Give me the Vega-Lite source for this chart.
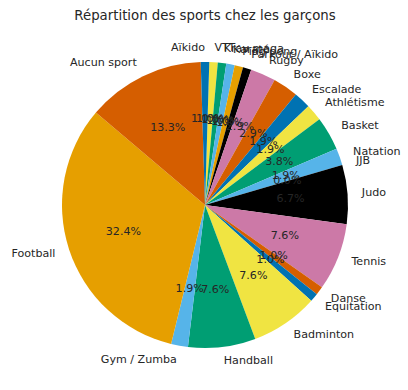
{
  "$schema": "https://vega.github.io/schema/vega-lite/v6.json",
  "width": 406,
  "height": 350,
  "autosize": {"type": "none"},
  "padding": {"left": 2, "top": 30, "right": 0, "bottom": 10},
  "background": "white",
  "title": {
    "text": "Répartition des sports chez les garçons",
    "font": "DejaVu Sans",
    "fontSize": 13.3,
    "fontWeight": "normal",
    "color": "#262626",
    "offset": 8
  },
  "data": {
    "values": [
      {"idx": 1, "sport": "VTT", "n": 1},
      {"idx": 2, "sport": "Krav maga", "n": 1},
      {"idx": 3, "sport": "Karaté", "n": 1},
      {"idx": 4, "sport": "Ping pong", "n": 1},
      {"idx": 5, "sport": "Parkour / Aïkido", "n": 1},
      {"idx": 6, "sport": "Rugby", "n": 3},
      {"idx": 7, "sport": "Boxe", "n": 3},
      {"idx": 8, "sport": "Escalade", "n": 2},
      {"idx": 9, "sport": "Athlétisme", "n": 2},
      {"idx": 10, "sport": "Basket", "n": 4},
      {"idx": 11, "sport": "Natation", "n": 2},
      {"idx": 12, "sport": "JJB", "n": 0},
      {"idx": 13, "sport": "Judo", "n": 7},
      {"idx": 14, "sport": "Tennis", "n": 8},
      {"idx": 15, "sport": "Danse", "n": 1},
      {"idx": 16, "sport": "Equitation", "n": 1},
      {"idx": 17, "sport": "Badminton", "n": 8},
      {"idx": 18, "sport": "Handball", "n": 8},
      {"idx": 19, "sport": "Gym / Zumba", "n": 2},
      {"idx": 20, "sport": "Football", "n": 34},
      {"idx": 21, "sport": "Aucun sport", "n": 14},
      {"idx": 22, "sport": "Aïkido", "n": 1}
    ]
  },
  "transform": [
    {"joinaggregate": [{"op": "sum", "field": "n", "as": "total"}]}
  ],
  "encoding": {
    "theta": {
      "field": "n",
      "type": "quantitative",
      "stack": true,
      "scale": {"range": [0.02992, 6.31311]}
    },
    "order": {"field": "idx", "type": "quantitative"}
  },
  "layer": [
    {
      "mark": {"type": "arc", "radius": 143},
      "encoding": {
        "color": {
          "field": "sport",
          "type": "nominal",
          "legend": null,
          "scale": {
            "domain": ["VTT", "Krav maga", "Karaté", "Ping pong", "Parkour / Aïkido", "Rugby", "Boxe", "Escalade", "Athlétisme", "Basket", "Natation", "JJB", "Judo", "Tennis", "Danse", "Equitation", "Badminton", "Handball", "Gym / Zumba", "Football", "Aucun sport", "Aïkido"],
            "range": ["#F0E442", "#009E73", "#56B4E9", "#E69F00", "#000000", "#CC79A7", "#D55E00", "#0072B2", "#F0E442", "#009E73", "#56B4E9", "#E69F00", "#000000", "#CC79A7", "#D55E00", "#0072B2", "#F0E442", "#009E73", "#56B4E9", "#E69F00", "#D55E00", "#0072B2"]
          }
        }
      }
    },
    {
      "mark": {
        "type": "text",
        "radius": 157.3,
        "font": "DejaVu Sans",
        "fontSize": 11.1,
        "color": "#262626",
        "baseline": "middle",
        "align": {"expr": "datum.n_start + datum.n_end < datum.total ? 'left' : 'right'"}
      },
      "encoding": {"text": {"field": "sport", "type": "nominal"}}
    },
    {
      "mark": {
        "type": "text",
        "radius": 85.8,
        "font": "DejaVu Sans",
        "fontSize": 11.1,
        "color": "#262626",
        "baseline": "middle",
        "align": "center",
        "text": {"expr": "format(datum.n / datum.total, '.1%')"}
      }
    }
  ],
  "config": {"view": {"stroke": null}}
}
